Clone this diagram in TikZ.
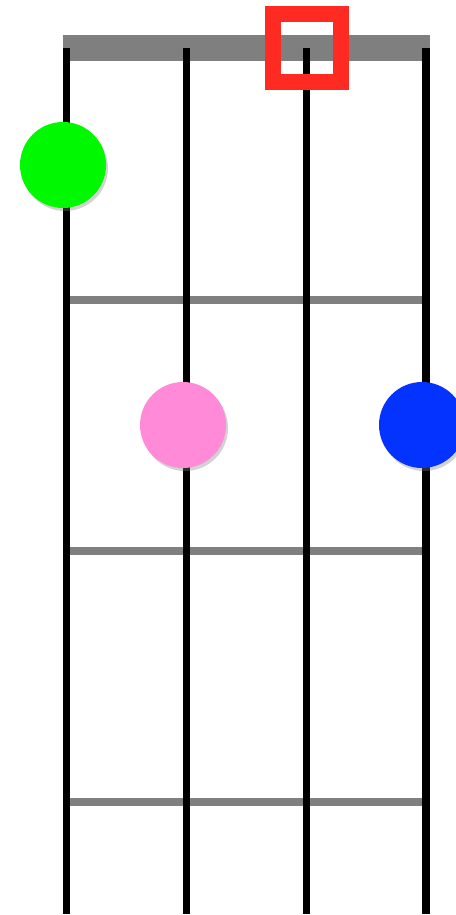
\documentclass[tikz,border=0pt]{standalone}
\usetikzlibrary{shadows}

\definecolor{nutgray}{HTML}{7F7F7F}
\definecolor{markred}{HTML}{FF2B22}
\definecolor{dotgreen}{HTML}{00F900}
\definecolor{dotpink}{HTML}{FF8AD8}
\definecolor{dotblue}{HTML}{0433FF}

\tikzset{
  fingerdot/.style={circle,minimum size=86pt,inner sep=0pt,
    drop shadow={shadow xshift=2pt,shadow yshift=-3pt,opacity=0.35}},
  openmark/.style={draw=markred,line width=16pt,minimum size=68pt,inner sep=0pt}
}

\begin{document}
\begin{tikzpicture}[x=1pt,y=-1pt]
\useasboundingbox[fill=white] (0,0) rectangle (455,915);

% Nut
\fill[nutgray] (63,35) rectangle (430,61);

% Frets
\foreach \y in {300,551,802}
  \draw[nutgray,line width=8pt] (68,\y) -- (424,\y);

% Strings
\foreach \x [count=\i] in {66.5,186.5,306.5,426}
  \draw[line width=7.5pt] (\x,48) coordinate (s\i top) -- (\x,914) coordinate (s\i bot);

% Open string mark
\node[openmark] (open3) at (s3top) {};

% Finger dots
\node[fingerdot,fill=dotgreen] (dot1) at (63,165) {};
\node[fingerdot,fill=dotpink] (dot2) at (183,425) {};
\node[fingerdot,fill=dotblue] (dot4) at (422,425) {};

\end{tikzpicture}
\end{document}
